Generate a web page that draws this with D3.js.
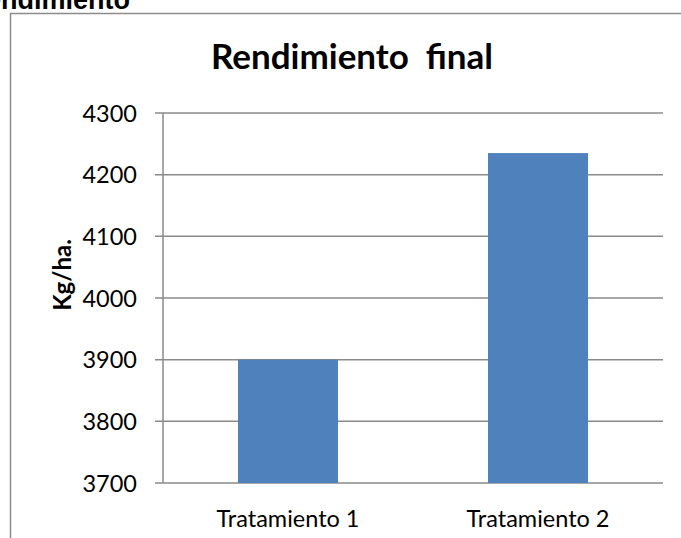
<!DOCTYPE html>
<html><head><meta charset="utf-8">
<script src="https://cdn.jsdelivr.net/npm/d3@7"></script>
<style>body{margin:0;background:#fff;}svg{display:block;}</style>
</head><body>
<svg id="c" width="681" height="538"></svg>
<script>
const categories = ["Tratamiento 1", "Tratamiento 2"];
const values = [3900, 4235];
const yTicks = [3700, 3800, 3900, 4000, 4100, 4200, 4300];
const title = "Rendimiento  final";
const yLabel = "Kg/ha.";
const heading = "Rendimiento";

const svg = d3.select("#c");
const m = {left: 163, right: 663, top: 113, bottom: 483};

// clipped heading above the chart frame
svg.append("text").attr("x", 130).attr("y", 9)
  .attr("text-anchor", "end")
  .style("font-family", "'Liberation Sans', Arial, sans-serif")
  .style("font-weight", "bold").style("font-size", "27px")
  .text(heading);

// chart frame (left and top edges visible)
svg.append("path").attr("d", "M10.5,540 V13.5 H690")
  .attr("fill", "none").attr("stroke", "#8c8c8c").attr("stroke-width", 1.5);

const x = d3.scaleBand().domain(categories).range([m.left, m.right]).paddingInner(0.6).paddingOuter(0.3);
const y = d3.scaleLinear().domain([3700, 4300]).range([m.bottom, m.top]);

// gridlines
svg.append("g").selectAll("line").data(yTicks).join("line")
  .attr("x1", m.left - 8).attr("x2", m.right)
  .attr("y1", d => y(d)).attr("y2", d => y(d))
  .attr("stroke", "#8a8a8a").attr("stroke-width", 1.5);

// y axis line
svg.append("line").attr("x1", m.left).attr("x2", m.left)
  .attr("y1", m.top).attr("y2", m.bottom)
  .attr("stroke", "#8a8a8a").attr("stroke-width", 1.5);

// bars
svg.append("g").selectAll("rect").data(values).join("rect")
  .attr("x", (d, i) => x(categories[i]))
  .attr("width", x.bandwidth())
  .attr("y", d => y(d))
  .attr("height", d => y(3700) - y(d))
  .attr("fill", "#4f81bd");

// y tick labels
const yAxis = d3.axisLeft(y).tickValues(yTicks).tickSize(0).tickPadding(0).tickFormat(d3.format("d"));
const ga = svg.append("g").attr("transform", `translate(${m.left - 26},0)`).call(yAxis);
ga.select(".domain").remove();
ga.selectAll("text").style("font-family", "Lato, 'Open Sans', sans-serif")
  .style("font-size", "23.5px").attr("fill", "#000").attr("dy", "0.35em");

// x labels
const xAxis = d3.axisBottom(x).tickSize(0).tickPadding(0);
const gx = svg.append("g").attr("transform", `translate(0,${m.bottom + 36})`).call(xAxis);
gx.select(".domain").remove();
gx.selectAll("text").style("font-family", "Lato, 'Open Sans', sans-serif")
  .style("font-size", "23.5px").attr("fill", "#000").attr("dy", "0.35em");

// title
svg.append("text").attr("x", 352).attr("y", 69).attr("text-anchor", "middle")
  .style("font-family", "Lato, 'Open Sans', sans-serif").style("font-weight", "bold")
  .style("font-size", "35px").style("white-space", "pre").attr("xml:space", "preserve")
  .text(title);

// y label
svg.append("text").attr("transform", "translate(71,275) rotate(-90)")
  .attr("text-anchor", "middle")
  .style("font-family", "Lato, 'Open Sans', sans-serif").style("font-weight", "bold")
  .style("font-size", "24px").text(yLabel);
</script>
</body></html>
